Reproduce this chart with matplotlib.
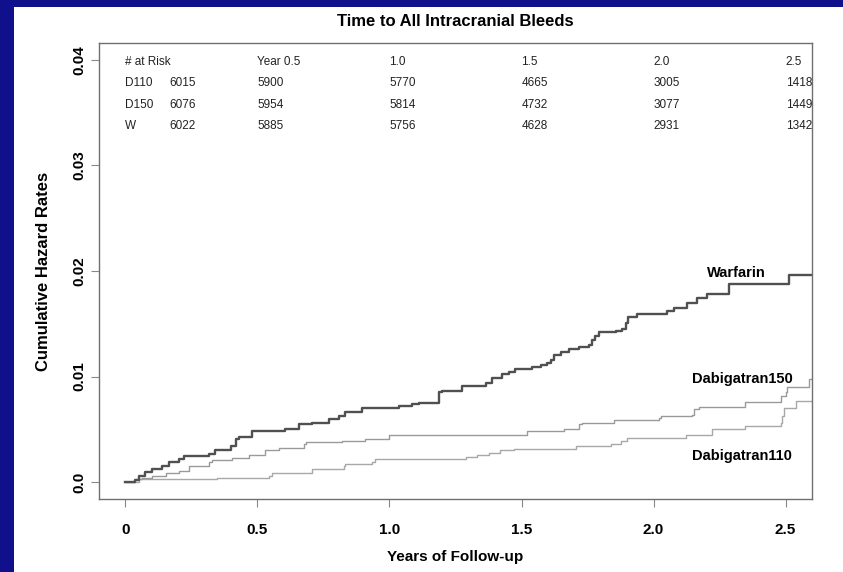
import matplotlib
matplotlib.use("Agg")
import matplotlib.pyplot as plt
from matplotlib.patches import Rectangle

plt.rcParams['font.family'] = ['Liberation Sans', 'DejaVu Sans']

# step curves: (years, cumulative hazard) after each step
warfarin_t = [0.000, 0.035, 0.050, 0.076, 0.100, 0.137, 0.164, 0.202, 0.221, 0.316,
              0.341, 0.398, 0.417, 0.429, 0.480, 0.606, 0.656, 0.706, 0.770, 0.808,
              0.833, 0.896, 1.035, 1.086, 1.111, 1.187, 1.199, 1.275, 1.364, 1.389,
              1.426, 1.452, 1.477, 1.540, 1.572, 1.597, 1.610, 1.622, 1.648, 1.679,
              1.717, 1.755, 1.767, 1.780, 1.793, 1.856, 1.881, 1.894, 1.904, 1.938,
              2.052, 2.077, 2.127, 2.165, 2.203, 2.285, 2.513, 2.600]
warfarin_v = [0.0000, 0.0002, 0.0006, 0.0010, 0.0012, 0.0015, 0.0019, 0.0022, 0.0025, 0.0027,
              0.0030, 0.0034, 0.0041, 0.0043, 0.0048, 0.0050, 0.0055, 0.0056, 0.0060, 0.0063,
              0.0066, 0.0070, 0.0072, 0.0074, 0.0075, 0.0085, 0.0086, 0.0091, 0.0094, 0.0099,
              0.0102, 0.0104, 0.0107, 0.0109, 0.0111, 0.0113, 0.0116, 0.0120, 0.0123, 0.0126,
              0.0128, 0.0130, 0.0135, 0.0138, 0.0142, 0.0143, 0.0145, 0.0151, 0.0156, 0.0159,
              0.0162, 0.0165, 0.0170, 0.0174, 0.0178, 0.0188, 0.0196, 0.0196]

d150_t = [0.000, 0.038, 0.063, 0.101, 0.152, 0.202, 0.240, 0.316, 0.328, 0.404,
          0.467, 0.530, 0.581, 0.675, 0.682, 0.820, 0.909, 0.997, 1.521, 1.660,
          1.717, 1.730, 1.850, 2.020, 2.027, 2.146, 2.153, 2.172, 2.348, 2.481,
          2.500, 2.506, 2.588, 2.600]
d150_v = [0.0000, 0.0003, 0.0004, 0.0006, 0.0009, 0.0011, 0.0015, 0.0019, 0.0021, 0.0023,
          0.0026, 0.0030, 0.0032, 0.0036, 0.0038, 0.0039, 0.0041, 0.0045, 0.0048, 0.0050,
          0.0055, 0.0056, 0.0059, 0.0061, 0.0063, 0.0064, 0.0069, 0.0071, 0.0076, 0.0082,
          0.0085, 0.0090, 0.0098, 0.0098]

d110_t = [0.000, 0.050, 0.347, 0.543, 0.555, 0.707, 0.827, 0.833, 0.934, 0.947,
          1.288, 1.330, 1.376, 1.420, 1.471, 1.705, 1.837, 1.875, 1.900, 2.121,
          2.222, 2.348, 2.481, 2.487, 2.494, 2.538, 2.600]
d110_v = [0.0000, 0.0003, 0.0004, 0.0006, 0.0009, 0.0012, 0.0015, 0.0017, 0.0019, 0.0022,
          0.0024, 0.0026, 0.0028, 0.0030, 0.0031, 0.0034, 0.0036, 0.0039, 0.0042, 0.0045,
          0.0050, 0.0053, 0.0056, 0.0063, 0.0070, 0.0077, 0.0077]

# number at risk table
risk_header = ["Year 0.5", "1.0", "1.5", "2.0", "2.5"]
risk_years = [0.5, 1.0, 1.5, 2.0, 2.5]
risk_groups = ["D110", "D150", "W"]
risk_start = ["6015", "6076", "6022"]
risk_counts = [["5900", "5770", "4665", "3005", "1418"],
               ["5954", "5814", "4732", "3077", "1449"],
               ["5885", "5756", "4628", "2931", "1342"]]

xticks = [0, 0.5, 1.0, 1.5, 2.0, 2.5]
xtick_labels = ["0", "0.5", "1.0", "1.5", "2.0", "2.5"]
yticks = [0.0, 0.01, 0.02, 0.03, 0.04]
ytick_labels = ["0.0", "0.01", "0.02", "0.03", "0.04"]

fig = plt.figure(figsize=(8.43, 5.72), dpi=100, facecolor='white')
# blue slide border
fig.patches.append(Rectangle((0, 1 - 7 / 572), 1, 7 / 572, transform=fig.transFigure,
                             facecolor='#10108c', edgecolor='none', zorder=0))
fig.patches.append(Rectangle((0, 0), 14 / 843, 1, transform=fig.transFigure,
                             facecolor='#10108c', edgecolor='none', zorder=0))

ax = fig.add_axes([99 / 843, 73 / 572, 713 / 843, 456 / 572])

ax.step(d110_t, d110_v, where='post', color='#a8a8a8', lw=1.0)
ax.step(d150_t, d150_v, where='post', color='#9a9a9a', lw=1.0)
ax.step(warfarin_t, warfarin_v, where='post', color='#505050', lw=1.7)

ax.set_xlim(-0.1, 2.6)
ax.set_ylim(-0.0016, 0.0416)

ax.set_xticks(xticks)
ax.set_xticklabels(xtick_labels, fontsize=11, fontweight='bold')
ax.set_yticks(yticks)
ax.set_yticklabels(ytick_labels, fontsize=11, fontweight='bold', rotation=90, va='center')
ax.tick_params(axis='x', length=6, color='#888888', pad=11)
ax.tick_params(axis='y', length=6, color='#888888', pad=3)
for s in ax.spines.values():
    s.set_color('#707070')
    s.set_linewidth(1.0)

# at-risk table
ax.text(0.0, 0.0398, "# at Risk", fontsize=8.5, va='center', ha='left', color='#222222')
for x, h in zip(risk_years, risk_header):
    ax.text(x, 0.0398, h, fontsize=8.5, va='center', ha='left', color='#222222', clip_on=True)
row_y = [0.0378, 0.0357, 0.0337]
for i, g in enumerate(risk_groups):
    ax.text(0.0, row_y[i], g, fontsize=8.5, va='center', ha='left', color='#222222')
    ax.text(0.165, row_y[i], risk_start[i], fontsize=8.5, va='center', ha='left', color='#222222')
    for x, c in zip(risk_years, risk_counts[i]):
        ax.text(x, row_y[i], c, fontsize=8.5, va='center', ha='left', color='#222222', clip_on=True)

# curve labels
ax.text(2.312, 0.0198, "Warfarin", fontsize=10.5, fontweight='bold', ha='center', va='center')
ax.text(2.335, 0.0098, "Dabigatran150", fontsize=10.5, fontweight='bold', ha='center', va='center')
ax.text(2.335, 0.0025, "Dabigatran110", fontsize=10.5, fontweight='bold', ha='center', va='center')

ax.text(0.5, 1 + 21 / 456, "Time to All Intracranial Bleeds", transform=ax.transAxes,
        fontsize=12, fontweight='bold', ha='center', va='center')
ax.set_xlabel("Years of Follow-up", fontsize=11, fontweight='bold', va='center')
ax.xaxis.set_label_coords(0.5, -(557 - 499) / 456)
ax.set_ylabel("Cumulative Hazard Rates", fontsize=12, fontweight='bold', va='center')
ax.yaxis.set_label_coords(-(99 - 44) / 713, 0.5)

fig.savefig("out.png", dpi=100, facecolor=fig.get_facecolor())
